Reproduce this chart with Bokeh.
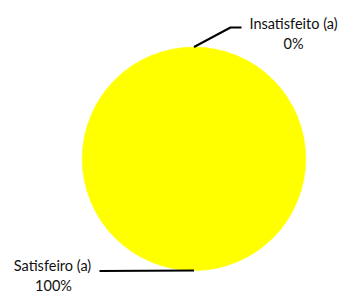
import math
from bokeh.plotting import figure
from bokeh.models import Range1d
from bokeh.core.properties import value
from bokeh.embed import file_html
from bokeh.resources import INLINE

categories = ["Insatisfeito (a)", "Satisfeiro (a)"]
values = [0, 100]
colors = ["#4472C4", "#FFFF00"]

W, H = 343, 293
p = figure(width=W, height=H, output_backend="svg", toolbar_location=None,
           x_range=Range1d(0, W), y_range=Range1d(293 - H, 293),
           min_border=0)
p.axis.visible = False
p.grid.visible = False
p.outline_line_color = None
p.background_fill_color = "white"

cx, cy, r = 193.5, 293 - 158.3, 111.8
total = sum(values)
start = math.pi / 2
starts, ends, cols, mids = [], [], [], []
for v, c in zip(values, colors):
    span = 2 * math.pi * v / total
    end = start - span
    mids.append((start + end) / 2)
    # split into pieces of at most pi so full circles render
    n = math.ceil(span / math.pi) if v > 0 else 0
    for k in range(n):
        s = start - span * k / n
        e = start - span * (k + 1) / n
        starts.append(s)
        ends.append(e)
        cols.append(c)
    start = end

p.wedge(x=cx, y=cy, radius=r, start_angle=starts, end_angle=ends,
        direction="clock", fill_color=cols, line_color=cols, line_width=0.5)

# leader lines and labels
name_pos = [(293, 293 - 23), (52, 293 - 265)]
pct_pos = [(293, 293 - 43), (53, 293 - 284.5)]
elbows = [[(230, 293 - 27), (241, 293 - 27)], [(99, 293 - 270.5)]]
for cat, v, m, (nx, ny), (px_, py_), el in zip(categories, values, mids,
                                              name_pos, pct_pos, elbows):
    ax = cx + r * math.cos(m)
    ay = cy + r * math.sin(m)
    xs = [ax] + [e[0] for e in el]
    ys = [ay] + [e[1] for e in el]
    p.line(xs, ys, line_color="black", line_width=2)
    pct = f"{round(100 * v / total)}%"
    for t, tx, ty in ((cat, nx, ny), (pct, px_, py_)):
        p.text(x=[tx], y=[ty], text=[t], text_align="center",
               text_baseline="middle", text_font=value("Lato"),
               text_font_size="14.5px", text_color="#111111")

open("out.html", "w").write(file_html(p, INLINE))
